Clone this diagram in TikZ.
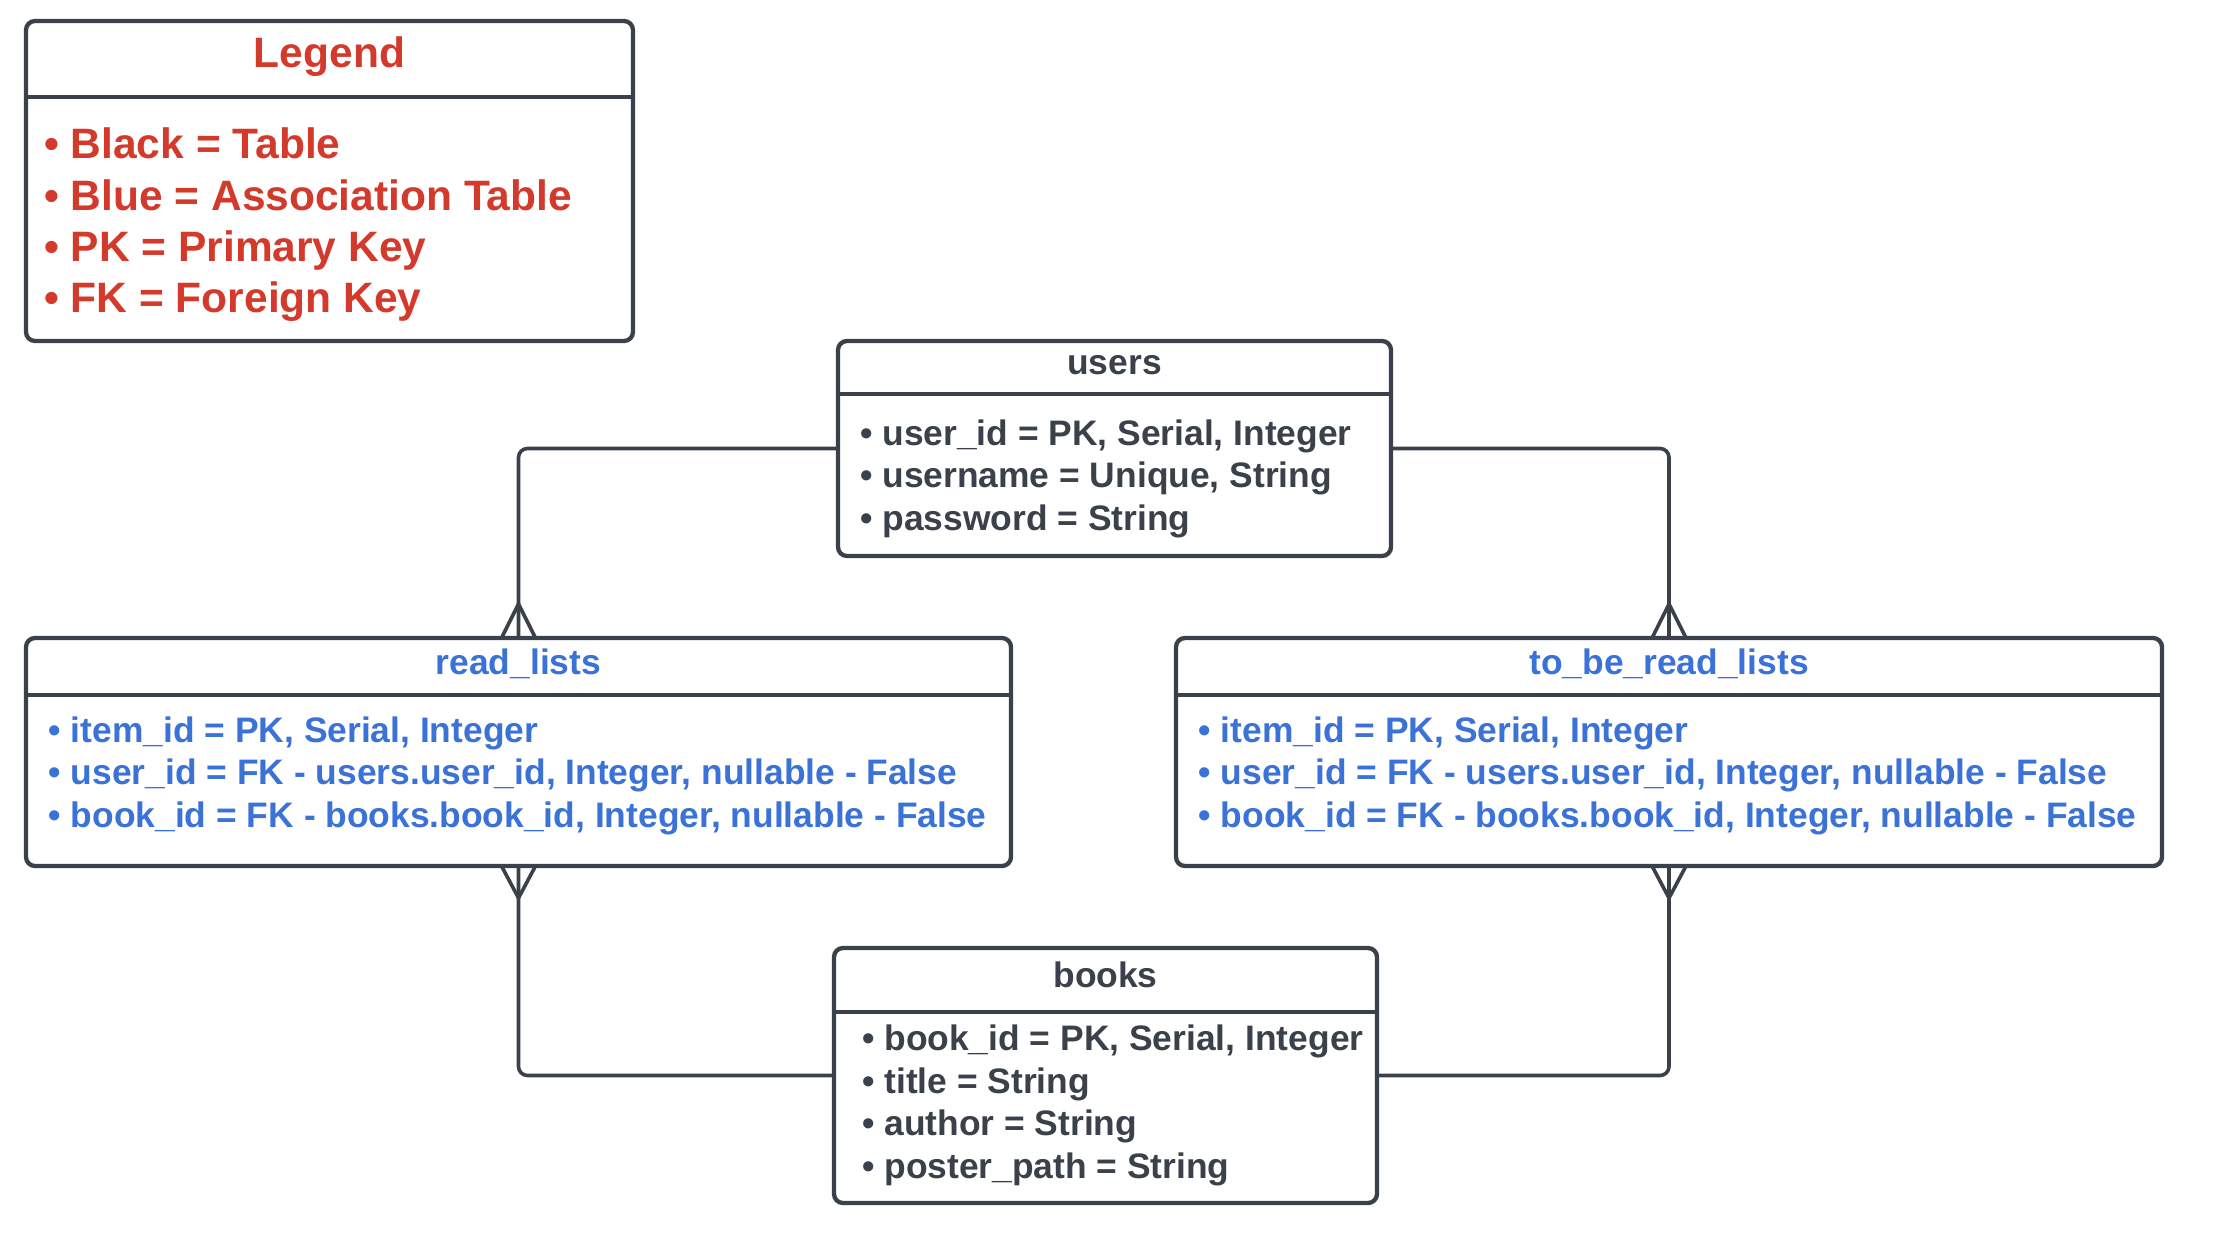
\documentclass[tikz,border=0pt]{standalone}
\usepackage{fontspec}
\setmainfont{Liberation Sans}
\usetikzlibrary{calc}
\definecolor{ink}{HTML}{3A414A}
\definecolor{lred}{HTML}{D33A2C}
\definecolor{lblue}{HTML}{3A72D8}
\tikzset{
  tbox/.style={draw=ink, line width=4.3pt, rounded corners=9pt, inner sep=0pt, outer sep=0pt, fill=white},
  hline/.style={draw=ink, line width=4.3pt},
  conn/.style={draw=ink, line width=3.6pt, rounded corners=9pt},
  foot/.style={draw=ink, line width=3.6pt},
  ttl/.style={inner sep=0pt, anchor=base, font=\bfseries\fontsize{35.4}{42}\selectfont},
  row/.style={inner sep=0pt, anchor=base west, font=\bfseries\fontsize{35.4}{42}\selectfont},
  lttl/.style={inner sep=0pt, anchor=base, text=lred, font=\bfseries\fontsize{42.5}{50}\selectfont},
  lrow/.style={inner sep=0pt, anchor=base west, text=lred, font=\bfseries\fontsize{42.5}{50}\selectfont},
}
\begin{document}
\begin{tikzpicture}[x=1pt,y=-1pt]
\useasboundingbox[fill=white] (0,0) rectangle (2216,1244);

% boxes
\node[tbox, minimum width=607pt, minimum height=320pt] (legend) at (329.5,181) {};
\node[tbox, minimum width=553pt, minimum height=215pt] (users) at (1114.5,448.5) {};
\node[tbox, minimum width=985pt, minimum height=228pt] (read) at (518.5,752) {};
\node[tbox, minimum width=986pt, minimum height=228pt] (tbr) at (1669,752) {};
\node[tbox, minimum width=543pt, minimum height=255pt] (books) at (1105.5,1075.5) {};

% header separators
\draw[hline] (legend.west |- 0,97) -- (legend.east |- 0,97);
\draw[hline] (users.west |- 0,394) -- (users.east |- 0,394);
\draw[hline] (read.west |- 0,695) -- (read.east |- 0,695);
\draw[hline] (tbr.west |- 0,695) -- (tbr.east |- 0,695);
\draw[hline] (books.west |- 0,1012) -- (books.east |- 0,1012);

% legend text
\node[lttl] (lt) at (329.5,68) {Legend};
\node[lrow] (l1) at (44,158) {• Black = Table};
\node[lrow] (l2) at (44,210) {• Blue = Association Table};
\node[lrow] (l3) at (44,261) {• PK = Primary Key};
\node[lrow] (l4) at (44,312) {• FK = Foreign Key};

% users
\node[ttl, text=ink] (ut) at (1114.5,374) {users};
\node[row, text=ink] (u1) at (860,445) {• user\_id = PK, Serial, Integer};
\node[row, text=ink] (u2) at (860,487.5) {• username = Unique, String};
\node[row, text=ink] (u3) at (860,530) {• password = String};

% read_lists
\node[ttl, text=lblue] (rt) at (518.5,674) {read\_lists};
\node[row, text=lblue] (r1) at (48.5,742) {• item\_id = PK, Serial, Integer};
\node[row, text=lblue] (r2) at (48.5,784.5) {• user\_id = FK - users.user\_id, Integer, nullable - False};
\node[row, text=lblue] (r3) at (48.5,827) {• book\_id = FK - books.book\_id, Integer, nullable - False};

% to_be_read_lists
\node[ttl, text=lblue] (tt) at (1669,674) {to\_be\_read\_lists};
\node[row, text=lblue] (t1) at (1198.5,742) {• item\_id = PK, Serial, Integer};
\node[row, text=lblue] (t2) at (1198.5,784.5) {• user\_id = FK - users.user\_id, Integer, nullable - False};
\node[row, text=lblue] (t3) at (1198.5,827) {• book\_id = FK - books.book\_id, Integer, nullable - False};

% books
\node[ttl, text=ink] (bt) at (1105.5,987) {books};
\node[row, text=ink] (b1) at (862,1050) {• book\_id = PK, Serial, Integer};
\node[row, text=ink] (b2) at (862,1093) {• title = String};
\node[row, text=ink] (b3) at (862,1135.5) {• author = String};
\node[row, text=ink] (b4) at (862,1178) {• poster\_path = String};

% connectors
\draw[conn] (users.west) -| (read.north);
\draw[conn] (users.east) -| (tbr.north);
\draw[conn] (books.west) -| (read.south);
\draw[conn] (books.east) -| (tbr.south);

% crow's feet
\draw[foot] ($(read.north)+(-17,0)$) -- ($(read.north)+(0,-34)$) -- ($(read.north)+(17,0)$);
\draw[foot] ($(tbr.north)+(-17,0)$) -- ($(tbr.north)+(0,-34)$) -- ($(tbr.north)+(17,0)$);
\draw[foot] ($(read.south)+(-17,0)$) -- ($(read.south)+(0,32)$) -- ($(read.south)+(17,0)$);
\draw[foot] ($(tbr.south)+(-17,0)$) -- ($(tbr.south)+(0,32)$) -- ($(tbr.south)+(17,0)$);
\end{tikzpicture}
\end{document}
